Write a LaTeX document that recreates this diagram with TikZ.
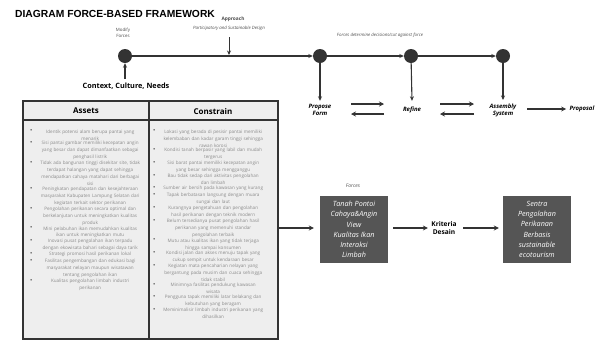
\documentclass[tikz,border=0pt]{standalone}
\usepackage{fontspec}
\setmainfont{Open Sans}
\newfontfamily\titlefont{Liberation Sans}
\usetikzlibrary{arrows.meta}
\definecolor{dark}{HTML}{333333}
\definecolor{boxgray}{HTML}{555555}
\definecolor{tablebg}{HTML}{EEEEEE}
\definecolor{txtgray}{HTML}{8A8A8A}
\newcommand\bul[1]{\par\noindent\makebox[10pt][l]{\raisebox{0.2pt}{\textcolor{dark}{\fontsize{6}{6}\selectfont\textbullet}}}\parbox[t]{100pt}{\centering #1}\par\vspace{0.3pt}}
\tikzset{
  dot/.style={circle, fill=dark, minimum size=14pt, inner sep=0pt},
  conn/.style={draw=dark, line width=1.1pt, -{Stealth[length=4.5pt,width=4pt]}},
  fat/.style={draw=dark, line width=1.6pt, -{Stealth[length=5pt,width=5pt]}},
  tiny/.style={font=\fontsize{4.4}{6}\selectfont\itshape, text=black!70, align=center},
  stagelbl/.style={font=\fontsize{6}{7}\selectfont\bfseries\itshape, align=center},
  darkbox/.style={fill=boxgray, text=white, minimum width=68pt, minimum height=67pt, align=center, font=\fontsize{7.2}{10.2}\selectfont\itshape},
  colhead/.style={font=\fontsize{8}{8}\selectfont\bfseries},
  coltext/.style={font=\fontsize{4.6}{6.95}\selectfont, text=txtgray, text width=112pt, inner sep=0pt, anchor=north west}
}
\begin{document}
\begin{tikzpicture}[x=1pt,y=-1pt]
\useasboundingbox (0,0) rectangle (602,341);
% title
\node[anchor=west, font=\titlefont\bfseries\fontsize{10.3}{11}\selectfont, inner sep=0pt] (title) at (15,14) {DIAGRAM FORCE-BASED FRAMEWORK};
% timeline dots
\node[dot] (d1) at (125,56) {};
\node[dot] (d2) at (320,56) {};
\node[dot] (d3) at (411,56) {};
\node[dot] (d4) at (503,56) {};
\draw[conn] (d1) -- (d2);
\draw[conn] (d2) -- (d3);
\draw[conn] (d3) -- (d4);
% labels above
\node[tiny, font=\fontsize{4.4}{6}\selectfont] (modify) at (123,33) {Modify\\Forces};
\node[tiny, font=\fontsize{4.8}{5}\selectfont\bfseries] (apphead) at (233,19) {Approach};
\node[tiny] (approach) at (229,28) {Participatory and Sustainable Design};
\coordinate (appin) at (229,37);
\draw[conn, line width=0.9pt] (appin) -- (229,55);
\node[tiny] (forcesdet) at (380,35) {Forces determine decisions/cut against force};
% context
\node[font=\fontsize{7.3}{8}\selectfont\bfseries] (context) at (126,86) {Context, Culture, Needs};
\draw[conn] (context.north -| d1) -- (d1);
% stages
\node[stagelbl] (propose) at (320,110) {Propose\\Form};
\node[stagelbl] (refine) at (412,110) {Refine};
\node[stagelbl] (assembly) at (503,110) {Assembly\\System};
\node[stagelbl] (proposal) at (582,109) {Proposal};
\draw[conn] (d2) -- (propose.north);
\draw[conn] (d3) -- (refine.north |- propose.north);
\draw[conn] (d4) -- (assembly.north);
\draw[fat] (351,104) -- (384,104);
\draw[fat] (384,114) -- (351,114);
\draw[fat] (440,104) -- (474,104);
\draw[fat] (474,114) -- (440,114);
\draw[fat] (527,109) -- (proposal.west);
% table
\fill[tablebg] (23,101) rectangle (278,339);
\draw[dark, line width=1.3pt] (23,101) rectangle (278,339);
\draw[dark, line width=1.3pt] (23,120) -- (278,120);
\draw[dark, line width=1.3pt] (149,101) -- (149,339);
\node[colhead] (assets) at (86,111) {Assets};
\node[colhead] (constrain) at (213,111) {Constrain};
\node[coltext] (assetlist) at (30,126) {%
\bul{Identik potensi alam berupa pantai yang menarik}
\bul{Sisi pantai gambar memiliki kecepatan angin yang besar dan dapat dimanfaatkan sebagai penghasil listrik}
\bul{Tidak ada bangunan tinggi disekitar site, tidak terdapat halangan yang dapat sehingga mendapatkan cahaya matahari dari berbagai sisi}
\bul{Peningkatan pendapatan dan kesejahteraan masyarakat Kabupaten Lampung Selatan dari kegiatan terkait sektor perikanan}
\bul{Pengolahan perikanan secara optimal dan berkelanjutan untuk meningkatkan kualitas produk}
\bul{Mini pelabuhan ikan memudahkan kualitas ikan untuk meningkatkan mutu}
\bul{Inovasi pusat pengolahan ikan terpadu dengan ekowisata bahari sebagai daya tarik}
\bul{Strategi promosi hasil perikanan lokal}
\bul{Fasilitas pengembangan dan edukasi bagi masyarakat nelayan maupun wisatawan tentang pengolahan ikan}
\bul{Kualitas pengolahan limbah industri perikanan}};
\node[coltext] (constlist) at (153,126) {%
\bul{Lokasi yang berada di pesisir pantai memiliki kelembaban dan kadar garam tinggi sehingga rawan korosi}
\bul{Kondisi tanah berpasir yang labil dan mudah tergerus}
\bul{Sisi barat pantai memiliki kecepatan angin yang besar sehingga mengganggu}
\bul{Bau tidak sedap dari aktivitas pengolahan dan limbah}
\bul{Sumber air bersih pada kawasan yang kurang}
\bul{Tapak berbatasan langsung dengan muara sungai dan laut}
\bul{Kurangnya pengetahuan dan pengolahan hasil perikanan dengan teknik modern}
\bul{Belum tersedianya pusat pengolahan hasil perikanan yang memenuhi standar pengolahan terbaik}
\bul{Mutu atau kualitas ikan yang tidak terjaga hingga sampai konsumen}
\bul{Kondisi jalan dan akses menuju tapak yang cukup sempit untuk kendaraan besar}
\bul{Kegiatan mata pencaharian nelayan yang bergantung pada musim dan cuaca sehingga tidak stabil}
\bul{Minimnya fasilitas pendukung kawasan wisata}
\bul{Pengguna tapak memiliki latar belakang dan kebutuhan yang beragam}
\bul{Meminimalisir limbah industri perikanan yang dihasilkan}};
% right flow
\node[darkbox] (forces) at (354,229.5) {Tanah Pontoi\\Cahaya\&Angin\\View\\Kualitas Ikan\\Interaksi\\Limbah};
\node[tiny, font=\fontsize{5}{5}\selectfont\itshape] (forceslbl) at (353,186) {Forces};
\node[font=\fontsize{6.6}{7.6}\selectfont\bfseries, align=center] (kriteria) at (444,228) {Kriteria\\Desain};
\node[darkbox] (result) at (537,229.5) {Sentra\\Pengolahan\\Perikanan\\Berbasis\\sustainable\\ecotourism};
\coordinate (tabout) at (278,228);
\draw[fat, shorten >=6pt] (tabout) -- (forces.west |- tabout);
\draw[fat] (393,228) -- (kriteria.west);
\draw[fat, shorten >=4pt] (kriteria.east) ++(3,0) -- (result.west |- kriteria);
\end{tikzpicture}
\end{document}
